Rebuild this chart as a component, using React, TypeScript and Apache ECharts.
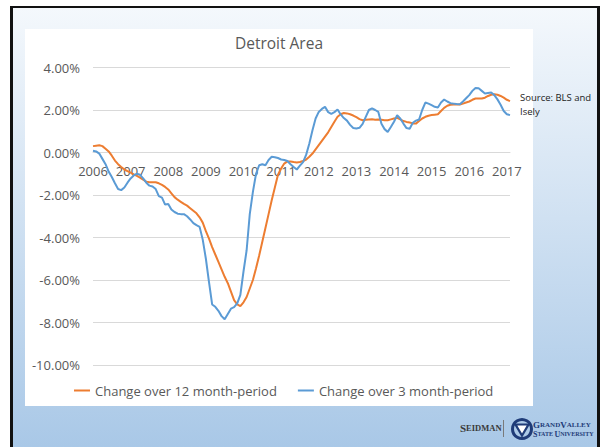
import React, { useEffect, useRef } from "react";
import * as echarts from "echarts";

const years = ["2006", "2007", "2008", "2009", "2010", "2011", "2012", "2013", "2014", "2015", "2016", "2017"];
const monthsInLastYear = 2;

const seriesNames = ["Change over 12 month-period", "Change over 3 month-period"];

// % change over 12 month-period (monthly, Jan 2006 .. Feb 2017)
const change12 = [
  0.30, 0.32, 0.34, 0.30, 0.18, 0.05, -0.15, -0.38, -0.55, -0.68,
  -0.80, -0.88, -0.95, -1.03, -1.10, -1.18, -1.28, -1.37, -1.40, -1.40,
  -1.40, -1.45, -1.52, -1.62, -1.74, -1.92, -2.10, -2.22, -2.32, -2.42,
  -2.50, -2.62, -2.74, -2.86, -3.05, -3.30, -3.70, -4.05, -4.45, -4.80,
  -5.15, -5.50, -5.85, -6.15, -6.55, -6.95, -7.15, -7.23, -7.05, -6.80,
  -6.40, -6.00, -5.45, -4.85, -4.20, -3.55, -2.90, -2.25, -1.65, -1.05,
  -0.75, -0.52, -0.42, -0.42, -0.45, -0.47, -0.45, -0.40, -0.33, -0.20,
  -0.05, 0.15, 0.35, 0.55, 0.75, 0.95, 1.20, 1.45, 1.68, 1.80,
  1.86, 1.84, 1.80, 1.74, 1.66, 1.57, 1.52, 1.54, 1.55, 1.56,
  1.54, 1.55, 1.54, 1.52, 1.52, 1.56, 1.60, 1.63, 1.56, 1.48,
  1.44, 1.41, 1.37, 1.36, 1.48, 1.60, 1.68, 1.73, 1.76, 1.78,
  1.80, 1.95, 2.10, 2.20, 2.25, 2.26, 2.26, 2.26, 2.30, 2.35,
  2.40, 2.48, 2.54, 2.54, 2.54, 2.58, 2.66, 2.72, 2.74, 2.72,
  2.66, 2.58, 2.48, 2.42,
];

// % change over 3 month-period
const change3 = [
  0.08, 0.05, -0.05, -0.30, -0.55, -0.90, -1.15, -1.45, -1.72, -1.77,
  -1.65, -1.42, -1.22, -1.08, -1.00, -1.05, -1.22, -1.42, -1.56, -1.60,
  -1.72, -2.05, -2.12, -2.45, -2.42, -2.68, -2.80, -2.88, -2.90, -2.90,
  -3.00, -3.15, -3.32, -3.42, -3.50, -4.10, -5.00, -6.10, -7.15, -7.26,
  -7.45, -7.70, -7.85, -7.60, -7.35, -7.28, -7.10, -6.70, -5.60, -4.60,
  -2.90, -1.85, -1.00, -0.60, -0.55, -0.60, -0.35, -0.20, -0.22, -0.26,
  -0.33, -0.35, -0.40, -0.55, -0.68, -0.80, -0.62, -0.45, -0.10, 0.42,
  1.05, 1.60, 1.91, 2.05, 2.15, 1.90, 1.82, 1.90, 2.02, 1.79,
  1.62, 1.50, 1.30, 1.15, 1.13, 1.16, 1.35, 1.68, 2.00, 2.08,
  2.00, 1.91, 1.35, 1.10, 0.97, 1.20, 1.45, 1.75, 1.60, 1.36,
  1.15, 1.12, 1.40, 1.50, 1.55, 2.00, 2.35, 2.30, 2.23, 2.15,
  2.12, 2.35, 2.49, 2.40, 2.32, 2.30, 2.28, 2.27, 2.40, 2.55,
  2.70, 2.90, 3.04, 3.02, 2.90, 2.78, 2.80, 2.82, 2.70, 2.50,
  2.25, 1.95, 1.80, 1.76,
];

const yMin = -10;
const yMax = 4;
const yStep = 2;

const categories: string[] = [];
years.forEach((y, yi) => {
  const n = yi === years.length - 1 ? monthsInLastYear : 12;
  for (let m = 1; m <= n; m++) categories.push(`${y}-${String(m).padStart(2, "0")}`);
});

const FONT = "'Open Sans', sans-serif";
const GRAY = "#595959";
const NAVY = "#1f3c78";

const GRID_TOP = 67.5;
const GRID_BOTTOM = 82;
const PAGE_H = 447;

export default function App() {
  const ref = useRef<HTMLDivElement>(null);

  useEffect(() => {
    if (!ref.current) return;
    const chart = echarts.init(ref.current, null, { renderer: "svg" });
    // distance from the bottom of the plot up to the zero line
    const plotH = PAGE_H - GRID_TOP - GRID_BOTTOM;
    const zeroOffset = -plotH * (0 - yMin) / (yMax - yMin);
    chart.setOption({
      animation: false,
      graphic: [
        { type: "rect", z: -20, shape: { x: 0, y: 0, width: 600, height: 447 }, style: { fill: "#ffffff" } },
        {
          type: "rect",
          z: -19,
          shape: { x: 12, y: 8, width: 586, height: 439 },
          style: {
            fill: new echarts.graphic.LinearGradient(0, 0, 0, 1, [
              { offset: 0, color: "#f4f8fc" },
              { offset: 1, color: "#a9c8e7" },
            ]),
          },
        },
        { type: "rect", z: -18, shape: { x: 11, y: 6, width: 589, height: 2 }, style: { fill: "#111" } },
        { type: "rect", z: -18, shape: { x: 10, y: 6, width: 3, height: 441 }, style: { fill: "#111" } },
        { type: "rect", z: -18, shape: { x: 597, y: 6, width: 3, height: 441 }, style: { fill: "#111" } },
        { type: "rect", z: -17, shape: { x: 25, y: 29, width: 508, height: 377 }, style: { fill: "#ffffff" } },
        {
          type: "text",
          x: 279,
          y: 43,
          style: { text: "Detroit Area", fill: GRAY, font: `15.5px ${FONT}`, textAlign: "center", textVerticalAlign: "middle" },
        },
        {
          type: "text",
          x: 520,
          y: 90,
          style: { text: "Source: BLS and\nIsely", fill: "#222", font: `9.5px ${FONT}`, lineHeight: 14, textAlign: "left", textVerticalAlign: "top" },
        },
        {
          type: "text",
          x: 460,
          y: 428,
          style: {
            text: "{a|S}{b|EIDMAN}",
            textVerticalAlign: "middle",
            rich: {
              a: { fontSize: 11, fontFamily: "Liberation Serif", fill: "#3a3a3a", fontWeight: "bold" },
              b: { fontSize: 8.5, fontFamily: "Liberation Serif", fill: "#3a3a3a", fontWeight: "bold" },
            },
          },
        },
        { type: "line", shape: { x1: 503.5, y1: 420, x2: 503.5, y2: 437 }, style: { stroke: "#7a7a7a", lineWidth: 1 } },
        { type: "circle", shape: { cx: 522, cy: 429, r: 9.5 }, style: { fill: "none", stroke: NAVY, lineWidth: 3 } },
        {
          type: "polygon",
          shape: { points: [[515.5, 424.5], [528.5, 424.5], [522, 435.5]] },
          style: { fill: "#ffffff", stroke: NAVY, lineWidth: 2.2 },
        },
        {
          type: "text",
          x: 533,
          y: 425,
          style: {
            text: "{a|G}{b|RAND}{a|V}{b|ALLEY}",
            textVerticalAlign: "middle",
            rich: {
              a: { fontSize: 9, fontFamily: "Liberation Serif", fill: NAVY, fontWeight: "bold" },
              b: { fontSize: 7, fontFamily: "Liberation Serif", fill: NAVY, fontWeight: "bold" },
            },
          },
        },
        {
          type: "text",
          x: 533,
          y: 434,
          style: {
            text: "{a|S}{b|TATE }{a|U}{b|NIVERSITY}",
            textVerticalAlign: "middle",
            rich: {
              a: { fontSize: 8, fontFamily: "Liberation Serif", fill: NAVY, fontWeight: "bold" },
              b: { fontSize: 6, fontFamily: "Liberation Serif", fill: NAVY, fontWeight: "bold" },
            },
          },
        },
      ],
      grid: { left: 93, right: 90, top: GRID_TOP, bottom: GRID_BOTTOM, containLabel: false },
      legend: {
        left: 69,
        top: 379,
        icon: "rect",
        itemWidth: 16,
        itemHeight: 2,
        itemGap: 21,
        padding: 5,
        textStyle: { color: GRAY, fontSize: 13, fontFamily: FONT },
        data: seriesNames,
      },
      xAxis: {
        type: "category",
        data: categories,
        boundaryGap: false,
        offset: zeroOffset,
        axisLine: { show: true, onZero: false, lineStyle: { color: "#d9d9d9", width: 1 } },
        axisTick: { show: false },
        axisLabel: {
          interval: (index: number) => index % 12 === 0,
          formatter: (v: string) => v.slice(0, 4),
          color: GRAY,
          fontSize: 13,
          fontFamily: FONT,
          margin: 12,
          hideOverlap: false,
        },
        splitLine: { show: false },
      },
      yAxis: {
        type: "value",
        min: yMin,
        max: yMax,
        interval: yStep,
        axisLine: { show: false },
        axisTick: { show: false },
        axisLabel: {
          formatter: (v: number) => `${v.toFixed(2)}%`,
          color: GRAY,
          fontSize: 13,
          fontFamily: FONT,
          margin: 13,
        },
        splitLine: { lineStyle: { color: "#d9d9d9", width: 1 } },
      },
      series: [
        {
          name: seriesNames[0],
          type: "line",
          data: change12,
          symbol: "none",
          z: 2,
          lineStyle: { color: "#ED7D31", width: 2 },
          itemStyle: { color: "#ED7D31" },
        },
        {
          name: seriesNames[1],
          type: "line",
          data: change3,
          symbol: "none",
          z: 3,
          lineStyle: { color: "#5B9BD5", width: 2 },
          itemStyle: { color: "#5B9BD5" },
        },
      ],
    });
    return () => chart.dispose();
  }, []);

  return <div ref={ref} style={{ position: "absolute", left: 0, top: 0, width: 600, height: 447 }} />;
}
